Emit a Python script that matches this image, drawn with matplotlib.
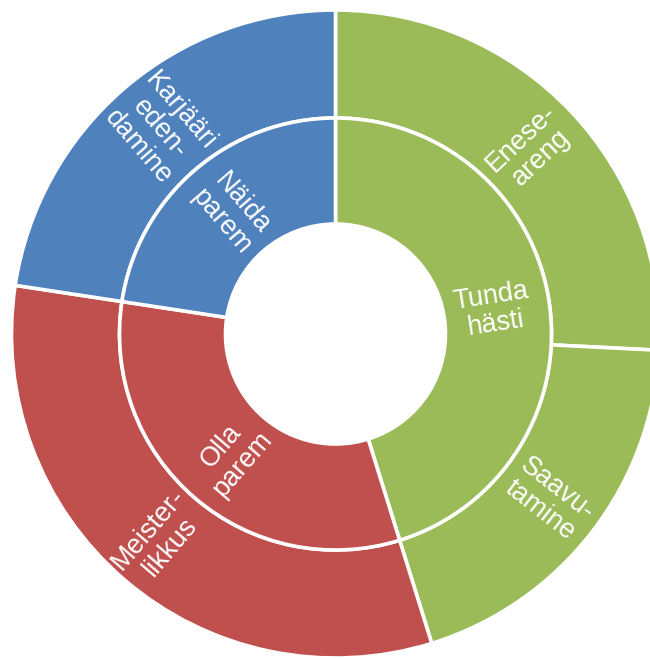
import numpy as np
import matplotlib
matplotlib.use("Agg")
import matplotlib.pyplot as plt

# Data
inner_labels = ["Tunda\nhästi", "Olla\nparem", "Näida\nparem"]
outer_labels = ["Enese-\nareng", "Saavu-\ntamine", "Meister-\nlikkus", "Karjääri\neden-\ndamine"]
outer_values = [25.8, 19.4, 32.2, 22.6]
outer_parent = [0, 0, 1, 2]
inner_values = [sum(v for v, p in zip(outer_values, outer_parent) if p == i) for i in range(3)]

colors = ["#9BBB59", "#C0504D", "#4F81BD"]
outer_colors = [colors[p] for p in outer_parent]

R_out = 1.0
R_mid = 216 / 324
R_hole = 110 / 324

fig = plt.figure(figsize=(6.5, 6.58), dpi=100)
ax = fig.add_axes([0, 0, 1, 1])

wp = dict(edgecolor="white", linewidth=2.6)
ax.pie(outer_values, radius=R_out, colors=outer_colors, startangle=90, counterclock=False,
       wedgeprops=dict(width=R_out - R_mid, **wp))
ax.pie(inner_values, radius=R_mid, colors=colors, startangle=90, counterclock=False,
       wedgeprops=dict(width=R_mid - R_hole, **wp))

font = dict(family=["Liberation Sans", "DejaVu Sans"], color="white", fontsize=19.5,
            ha="center", va="center", multialignment="center", linespacing=1.1)


def place(values, labels, r):
    total = sum(values)
    cum = 0
    for v, lab in zip(values, labels):
        mid_cw = (cum + v / 2) / total * 360
        cum += v
        theta = 90 - mid_cw
        th = np.deg2rad(theta)
        x, y = r * np.cos(th), r * np.sin(th)
        rot = (theta + 180) % 360 - 180
        if rot > 90:
            rot -= 180
        elif rot < -90:
            rot += 180
        ax.text(x, y, lab, rotation=rot, rotation_mode="anchor", **font)


place(outer_values, outer_labels, (R_out + R_mid) / 2)
place(inner_values, inner_labels, (R_mid + R_hole) / 2 - 0.01)

ax.set_xlim(-335.5 / 324, 314.5 / 324)
ax.set_ylim(-324 / 324, 334 / 324)
ax.set_aspect("auto")
ax.axis("off")

fig.savefig("out.png", dpi=100)
